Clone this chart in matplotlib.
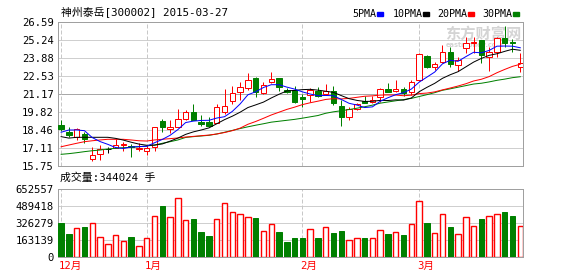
import matplotlib
matplotlib.use("Agg")
import matplotlib.pyplot as plt
from matplotlib.patches import Rectangle
import numpy as np

# ============================================================
# 神州泰岳 [300002] daily K-line, 2014-12 .. 2015-03-27
# values
# ============================================================
opens = [18.84, 18.33, 17.96, 18.14, 16.25, 16.63, 17.01, 17.13, 17.33, 17.26,
         17.01, 16.90, 17.20, 19.16, 18.56, 18.71, 19.29, 19.79, 19.06, 19.06,
         18.96, 19.79, 20.67, 21.34, 21.65, 22.35, 21.22, 22.05, 22.35, 21.47,
         21.47, 20.97, 21.10, 21.42, 21.17, 21.42, 20.27, 19.46, 20.02, 20.67,
         20.59, 20.97, 21.55, 21.42, 21.55, 21.30, 22.22, 24.03, 23.18, 23.60,
         24.31, 23.35, 24.61, 24.98, 25.24, 23.98, 24.36, 25.36, 25.07, 23.23]
highs = [19.21, 18.66, 18.63, 18.33, 17.20, 17.33, 17.16, 17.76, 17.58, 17.41,
         17.46, 17.33, 18.66, 19.29, 19.21, 20.02, 19.97, 20.42, 19.59, 19.42,
         20.39, 21.55, 21.77, 22.10, 22.77, 22.43, 22.10, 22.85, 22.35, 21.60,
         21.77, 21.17, 21.65, 21.72, 21.92, 21.77, 20.72, 20.17, 20.51, 21.02,
         21.02, 21.60, 22.02, 22.22, 21.72, 22.22, 24.23, 24.11, 23.60, 24.86,
         24.73, 23.98, 25.44, 25.44, 25.24, 24.73, 25.44, 26.29, 25.29, 24.23]
lows = [18.41, 17.96, 17.71, 17.50, 16.15, 16.20, 16.75, 17.13, 16.90, 16.45,
        16.90, 16.58, 16.90, 18.33, 18.21, 18.71, 19.21, 19.21, 18.76, 18.76,
        18.96, 19.66, 20.42, 20.72, 21.47, 20.97, 21.17, 21.97, 21.42, 21.22,
        20.51, 20.17, 20.59, 20.97, 21.17, 20.32, 18.76, 19.21, 19.97, 20.47,
        20.47, 20.59, 21.30, 21.34, 21.02, 21.10, 22.17, 23.10, 22.98, 23.48,
        23.23, 22.90, 24.23, 24.23, 23.48, 22.92, 23.93, 24.73, 24.36, 22.85]
closes = [18.54, 18.06, 18.51, 17.78, 16.58, 17.01, 17.01, 17.33, 17.41, 17.16,
          17.13, 17.13, 18.66, 18.66, 18.71, 19.29, 19.79, 19.21, 18.89, 18.76,
          20.17, 20.27, 21.22, 21.67, 22.22, 21.34, 21.85, 22.28, 21.67, 21.30,
          20.59, 20.82, 21.47, 21.02, 21.42, 20.47, 19.42, 20.02, 20.39, 20.47,
          20.72, 21.52, 21.34, 21.55, 21.22, 22.05, 24.16, 23.23, 23.43, 24.31,
          23.43, 23.73, 24.98, 25.11, 24.11, 24.31, 25.36, 25.03, 25.03, 23.53]
volumes = [323400, 223600, 278300, 287900, 326300, 191900, 124700, 211100, 153500, 191900,
           105600, 179400, 393400, 492300, 383800, 566200, 355000, 364600, 243000, 204400,
           361400, 515100, 428600, 412600, 380600, 374200, 246300, 316700, 239900, 143900,
           182300, 182300, 265200, 182300, 284700, 230300, 249500, 159900, 179400, 179400,
           179400, 255900, 220700, 236700, 211100, 313500, 534300, 326300, 227100, 412600,
           287900, 217500, 380600, 294400, 364600, 390200, 412600, 431800, 393400, 294400]

ma5 = [18.29, 18.46, 18.46, 18.41, 17.89, 17.59, 17.38, 17.14, 17.07, 17.18,
       17.21, 17.23, 17.50, 17.75, 18.06, 18.49, 19.02, 19.13, 19.18, 19.19,
       19.36, 19.46, 19.86, 20.42, 21.11, 21.34, 21.66, 21.87, 21.87, 21.69,
       21.54, 21.33, 21.17, 21.04, 21.06, 21.04, 20.76, 20.47, 20.34, 20.15,
       20.20, 20.62, 20.89, 21.12, 21.27, 21.54, 22.06, 22.44, 22.82, 23.44,
       23.71, 23.63, 23.98, 24.31, 24.27, 24.45, 24.77, 24.78, 24.77, 24.65]
ma10 = [17.96, 17.85, 17.91, 17.91, 17.91, 17.91, 17.91, 17.83, 17.70, 17.54,
        17.40, 17.31, 17.32, 17.41, 17.62, 17.85, 18.13, 18.32, 18.46, 18.62,
        18.93, 19.24, 19.50, 19.80, 20.15, 20.35, 20.56, 20.87, 21.15, 21.40,
        21.44, 21.50, 21.52, 21.46, 21.38, 21.29, 21.05, 20.82, 20.69, 20.61,
        20.62, 20.69, 20.68, 20.73, 20.71, 20.87, 21.34, 21.67, 21.97, 22.35,
        22.62, 22.85, 23.21, 23.57, 23.85, 24.08, 24.20, 24.38, 24.54, 24.46]
ma20 = [17.20, 17.33, 17.46, 17.58, 17.65, 17.71, 17.76, 17.76, 17.76, 17.71,
        17.65, 17.63, 17.71, 17.76, 17.81, 17.86, 17.93, 17.98, 18.03, 18.08,
        18.16, 18.27, 18.41, 18.60, 18.89, 19.10, 19.34, 19.59, 19.80, 20.01,
        20.18, 20.37, 20.51, 20.63, 20.76, 20.82, 20.80, 20.84, 20.92, 21.00,
        21.03, 21.09, 21.10, 21.09, 21.04, 21.08, 21.20, 21.24, 21.33, 21.48,
        21.62, 21.77, 21.94, 22.15, 22.28, 22.48, 22.77, 23.02, 23.25, 23.41]
ma30 = [16.63, 16.68, 16.75, 16.83, 16.90, 16.95, 17.03, 17.08, 17.13, 17.15,
        17.20, 17.26, 17.33, 17.46, 17.58, 17.71, 17.90, 17.96, 18.01, 18.06,
        18.16, 18.29, 18.43, 18.57, 18.70, 18.82, 18.93, 19.05, 19.12, 19.19,
        19.26, 19.35, 19.45, 19.55, 19.72, 19.83, 19.91, 20.00, 20.10, 20.21,
        20.33, 20.48, 20.57, 20.66, 20.75, 20.84, 20.98, 21.12, 21.27, 21.45,
        21.56, 21.68, 21.80, 21.92, 21.98, 22.08, 22.20, 22.29, 22.40, 22.47]

price_ticks = [26.59, 25.24, 23.88, 22.53, 21.17, 19.82, 18.46, 17.11, 15.75]
vol_ticks = [652557, 489418, 326279, 163139, 0]
month_idx = [0, 11, 31, 46]
month_labels = ["12月", "1月", "2月", "3月"]
ma_labels = ["5PMA", "10PMA", "20PMA", "30PMA"]
ma_colors = ["#0000ff", "#000000", "#ff0000", "#008000"]

title = "神州泰岳[300002] 2015-03-27"
vol_title = "成交量:344024 手"

# ============================================================
# styling
# ============================================================
W, H, DPI = 578, 276, 100
RED = "#ff0000"
GREEN = "#008000"
GRID = "#cfcfcf"
GRID_MID = "#a8a8a8"
FRAME = "#a0a0a0"
DASH = "#c8c8c8"
FS = 7.6          # ~10.5 px
LW = 0.72         # 1 px
plt.rcParams["font.family"] = ["DejaVu Sans Mono", "Noto Sans CJK SC"]
plt.rcParams["font.size"] = FS


def fx(px):
    return px / W


def fy(py):
    return 1 - py / H


fig = plt.figure(figsize=(W / DPI, H / DPI), dpi=DPI)
ax = fig.add_axes([fx(58), fy(166), (523 - 58) / W, (166 - 22) / H])
axv = fig.add_axes([fx(58), fy(257), (523 - 58) / W, (257 - 189) / H])

x = np.arange(len(closes))
o, h, l, c = (np.array(a) for a in (opens, highs, lows, closes))
v = np.array(volumes)
up = c > o
down = c < o
flat = c == o
ccol = np.where(up, RED, np.where(down, GREEN, "#000000"))
bw = 0.7

# ---------- price panel ----------
for k, t in enumerate(price_ticks[1:-1]):
    ax.axhline(t, color=GRID_MID if k == 3 else GRID, lw=LW, zorder=1)
for m in month_idx:
    ax.axvline(m, color=DASH, lw=LW, ls=(0, (4, 2)), zorder=1)

# watermark
ax.text(fx(445), fy(34), "东方财富网", transform=fig.transFigure, fontsize=11,
        family="Noto Sans CJK SC", weight="bold", color="#d4d4d4", va="center", zorder=1)
ax.text(fx(446), fy(45), "eastmoney.com", transform=fig.transFigure, fontsize=4.8,
        family="DejaVu Sans", weight="bold", color="#d4d4d4", va="center", zorder=1)

ax.vlines(x, l, h, colors=ccol, lw=LW, zorder=3)
ax.bar(x[up], (c - o)[up], bottom=o[up], width=bw, facecolor="white",
       edgecolor=RED, linewidth=LW, zorder=4)
ax.bar(x[down], (o - c)[down], bottom=c[down], width=bw, facecolor=GREEN,
       edgecolor=GREEN, linewidth=LW, zorder=4)
ax.hlines(c[flat], x[flat] - bw / 2, x[flat] + bw / 2, colors="#000000", lw=LW, zorder=4)

for ma, col in zip([ma30, ma20, ma10, ma5], ma_colors[::-1]):
    ax.plot(x, ma, color=col, lw=LW, zorder=5)

ax.set_xlim(-0.4, 59.35)
ax.set_ylim(price_ticks[-1], price_ticks[0])
ax.set_yticks(price_ticks, labels=[f"{t:.2f}" for t in price_ticks])
ax.set_xticks([])

# ---------- volume panel ----------
for t in vol_ticks[1:-1]:
    axv.axhline(t, color=GRID, lw=LW, zorder=1)
for m in month_idx:
    axv.axvline(m, color=DASH, lw=LW, ls=(0, (4, 2)), zorder=1)

vred = c >= o
axv.bar(x[vred], v[vred], width=bw, facecolor="white", edgecolor=RED, linewidth=LW * 1.4, zorder=3)
axv.bar(x[~vred], v[~vred], width=bw, facecolor=GREEN, edgecolor=GREEN, linewidth=LW, zorder=3)

axv.set_xlim(-0.4, 59.35)
axv.set_ylim(0, vol_ticks[0])
axv.set_yticks(vol_ticks, labels=[str(t) for t in vol_ticks])
axv.set_xticks([])

for m, lab in zip(month_idx, month_labels):
    axv.annotate(lab, xy=(m, 0), xycoords=("data", "axes fraction"),
                 xytext=(-2, -4), textcoords="offset pixels",
                 ha="left", va="top", color=RED, fontsize=FS)

for a in (ax, axv):
    for s in a.spines.values():
        s.set_color(FRAME)
        s.set_linewidth(LW)
    a.tick_params(axis="y", length=0, pad=3, labelsize=FS)

# ---------- header texts ----------
fig.text(fx(61), fy(12.5), title, ha="left", va="center", fontsize=FS + 0.2)
fig.text(fx(60), fy(178), vol_title, ha="left", va="center", fontsize=FS + 0.2)

leg_x = [352, 393, 437, 482]
bar_x = [377, 423, 468, 513]
for lab, col, tx, bx in zip(ma_labels, ma_colors, leg_x, bar_x):
    fig.text(fx(tx), fy(14), lab, ha="left", va="center", fontsize=FS - 0.4)
    fig.add_artist(Rectangle((fx(bx), fy(15.5)), 6 / W, 3 / H,
                             transform=fig.transFigure, color=col))

fig.savefig("out.png", dpi=DPI)
